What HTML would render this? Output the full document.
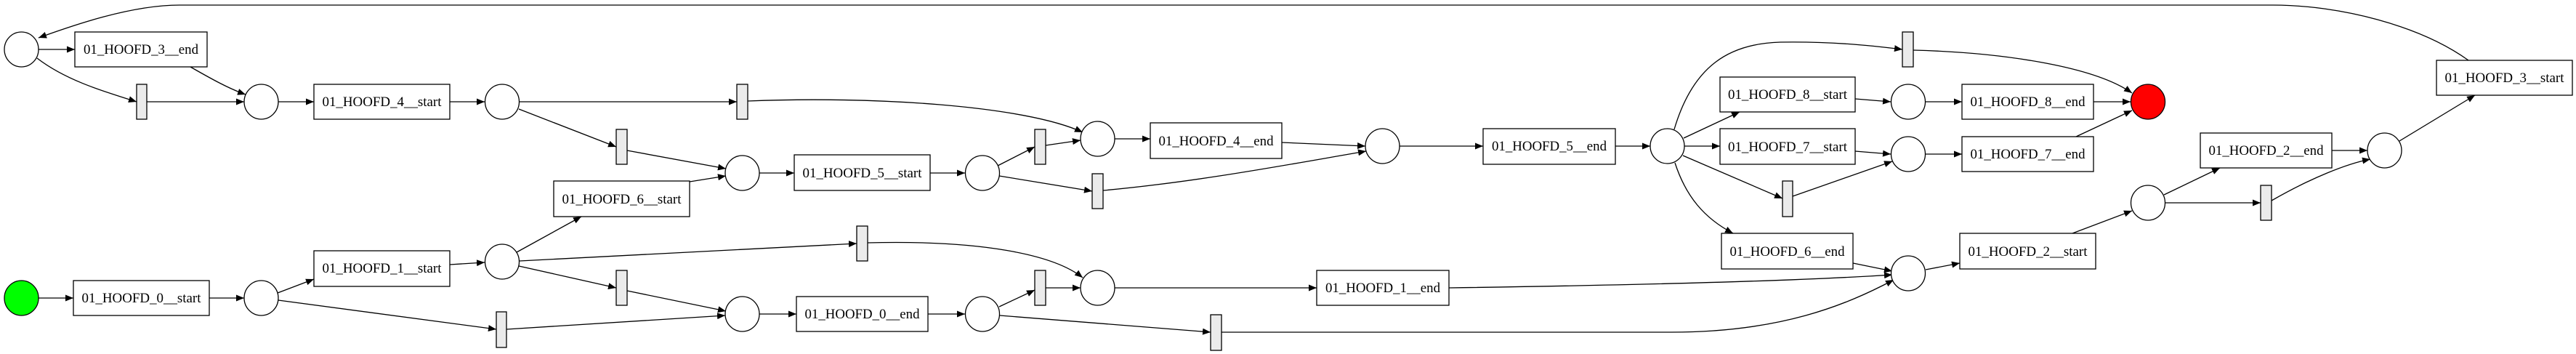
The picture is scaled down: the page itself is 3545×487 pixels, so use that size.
<!DOCTYPE html>
<html><head><meta charset="utf-8"><style>
html,body{margin:0;padding:0;background:#fff;}
svg{display:block;}
text{font-family:"Liberation Serif",serif;font-size:19px;}
</style></head><body>
<svg width="3545" height="487" viewBox="0 0 3545 487" xmlns="http://www.w3.org/2000/svg">
<defs>
<marker id="a" markerUnits="userSpaceOnUse" markerWidth="11" markerHeight="9" refX="11" refY="4.5" orient="auto">
<path d="M0,0 L11,4.5 L0,9 z" fill="#000"/>
</marker>
</defs>
<rect width="3545" height="487" fill="#fff"/>
<g fill="none" stroke="#000" stroke-width="1.3" marker-end="url(#a)">
<path d="M53,68 L103,68"/>
<path d="M51,80 C90,110 140,125 188,140"/>
<path d="M262,92 C290,108 315,122 338,130"/>
<path d="M202,140 L336,140"/>
<path d="M383,140 L432,140"/>
<path d="M619,140 L667,140"/>
<path d="M715,140 L1014,140"/>
<path d="M714,150 L848,202"/>
<path d="M863,207 L999,232"/>
<path d="M949,250 L999,242"/>
<path d="M1045,238 L1093,238"/>
<path d="M1280,238 L1328,238"/>
<path d="M1373,228 L1424,202"/>
<path d="M1375,242 L1503,263"/>
<path d="M1439,200 L1487,193"/>
<path d="M1029,139 C1200,132 1410,145 1490,182"/>
<path d="M1534,191 L1583,191"/>
<path d="M1764,196 L1879,201"/>
<path d="M1518,262 C1650,250 1780,225 1880,208"/>
<path d="M1926,201 L2041,201"/>
<path d="M2223,201 L2271,201"/>
<path d="M2304,178 C2330,90 2380,60 2450,58 C2520,57 2570,62 2618,68"/>
<path d="M2317,190 L2394,154"/>
<path d="M2318,201 L2367,201"/>
<path d="M2316,214 L2453,273"/>
<path d="M2305,224 C2320,270 2345,300 2385,321"/>
<path d="M2553,136 L2602,140"/>
<path d="M2553,208 L2602,212"/>
<path d="M2467,270 L2604,222"/>
<path d="M2650,140 L2700,140"/>
<path d="M2650,212 L2700,212"/>
<path d="M2633,69 C2750,72 2880,90 2934,128"/>
<path d="M2881,140 L2932,140"/>
<path d="M2857,188 L2934,152"/>
<path d="M2550,362 L2604,373"/>
<path d="M1994,396 C2200,393 2450,388 2604,378"/>
<path d="M1681,457 L2300,457 C2450,457 2540,420 2606,385"/>
<path d="M2650,371 L2697,362"/>
<path d="M2852,321 L2934,290"/>
<path d="M2978,268 L3055,231"/>
<path d="M2980,279 L3111,279"/>
<path d="M3209,207 L3258,207"/>
<path d="M3126,276 C3180,245 3230,225 3262,219"/>
<path d="M3302,194 L3406,131"/>
<path d="M3397,83 C3330,35 3220,7 3128,7 L247,7 C180,7 100,35 53,52"/>
<path d="M53,410 L101,410"/>
<path d="M288,410 L336,410"/>
<path d="M382,403 L432,384"/>
<path d="M383,413 L683,453"/>
<path d="M619,364 L667,361"/>
<path d="M711,347 L800,298"/>
<path d="M715,359 L1179,335"/>
<path d="M714,366 L848,396"/>
<path d="M863,400 L999,428"/>
<path d="M697,453 L998,434"/>
<path d="M1045,432 L1096,432"/>
<path d="M1277,432 L1328,432"/>
<path d="M1375,422 L1424,399"/>
<path d="M1376,434 L1666,457"/>
<path d="M1439,396 L1487,396"/>
<path d="M1194,334 C1350,330 1450,350 1490,382"/>
<path d="M1534,396 L1812,396"/>
</g>
<g stroke="#000" stroke-width="1.3" fill="#fff">
<ellipse cx="29.5" cy="68" rx="23.5" ry="24"/>
<ellipse cx="359.5" cy="140" rx="23.5" ry="24"/>
<ellipse cx="691" cy="140" rx="23.5" ry="24"/>
<ellipse cx="29.5" cy="410" rx="23.5" ry="24" fill="#00ff00"/>
<ellipse cx="359.5" cy="410" rx="23.5" ry="24"/>
<ellipse cx="691" cy="360" rx="23.5" ry="24"/>
<ellipse cx="1021.5" cy="238" rx="23.5" ry="24"/>
<ellipse cx="1352" cy="238" rx="23.5" ry="24"/>
<ellipse cx="1510.5" cy="191" rx="23.5" ry="24"/>
<ellipse cx="1510.5" cy="396" rx="23.5" ry="24"/>
<ellipse cx="1021.5" cy="432" rx="23.5" ry="24"/>
<ellipse cx="1352" cy="432" rx="23.5" ry="24"/>
<ellipse cx="1902.5" cy="201" rx="23.5" ry="24"/>
<ellipse cx="2294.5" cy="201" rx="23.5" ry="24"/>
<ellipse cx="2626" cy="140" rx="23.5" ry="24"/>
<ellipse cx="2626" cy="212" rx="23.5" ry="24"/>
<ellipse cx="2626" cy="376" rx="23.5" ry="24"/>
<ellipse cx="2956" cy="140" rx="23.5" ry="24" fill="#ff0000"/>
<ellipse cx="2956" cy="279" rx="23.5" ry="24"/>
<ellipse cx="3281.5" cy="207" rx="23.5" ry="24"/>
</g>
<g stroke="#000" stroke-width="1.3" fill="#ebebeb">
<rect x="188" y="116" width="14" height="48"/>
<rect x="848" y="178" width="15" height="48"/>
<rect x="848" y="372" width="15" height="48"/>
<rect x="683" y="429" width="14" height="49"/>
<rect x="1014" y="116" width="15" height="48"/>
<rect x="1424" y="178" width="15" height="48"/>
<rect x="1503" y="239" width="15" height="48"/>
<rect x="1179" y="311" width="15" height="48"/>
<rect x="1424" y="372" width="15" height="48"/>
<rect x="1666" y="433" width="15" height="49"/>
<rect x="2618" y="44" width="15" height="48"/>
<rect x="2453" y="249" width="14" height="49"/>
<rect x="3111" y="255" width="15" height="48"/>
</g>
<g stroke="#000" stroke-width="1.3" fill="#fff">
<rect x="103" y="44" width="182" height="48"/>
<rect x="432" y="116" width="187" height="48"/>
<rect x="762" y="249" width="187" height="49"/>
<rect x="101" y="386" width="187" height="48"/>
<rect x="432" y="345" width="187" height="49"/>
<rect x="1093" y="213" width="187" height="49"/>
<rect x="1583" y="169" width="181" height="49"/>
<rect x="1096" y="408" width="181" height="48"/>
<rect x="2041" y="177" width="182" height="49"/>
<rect x="2367" y="106" width="186" height="48"/>
<rect x="2367" y="177" width="186" height="49"/>
<rect x="2369" y="321" width="181" height="49"/>
<rect x="1812" y="372" width="182" height="48"/>
<rect x="2700" y="116" width="181" height="48"/>
<rect x="2700" y="188" width="181" height="48"/>
<rect x="3028" y="183" width="181" height="48"/>
<rect x="3353" y="83" width="187" height="48"/>
<rect x="2697" y="321" width="187" height="49"/>
</g>
<g fill="#000" text-anchor="middle" lengthAdjust="spacingAndGlyphs">
<text x="194" y="74" textLength="158" lengthAdjust="spacingAndGlyphs">01_HOOFD_3__end</text>
<text x="525.5" y="146" textLength="164" lengthAdjust="spacingAndGlyphs">01_HOOFD_4__start</text>
<text x="855.5" y="280" textLength="164" lengthAdjust="spacingAndGlyphs">01_HOOFD_6__start</text>
<text x="194.5" y="416" textLength="164" lengthAdjust="spacingAndGlyphs">01_HOOFD_0__start</text>
<text x="525.5" y="375" textLength="164" lengthAdjust="spacingAndGlyphs">01_HOOFD_1__start</text>
<text x="1186.5" y="244" textLength="164" lengthAdjust="spacingAndGlyphs">01_HOOFD_5__start</text>
<text x="1673.5" y="200" textLength="158" lengthAdjust="spacingAndGlyphs">01_HOOFD_4__end</text>
<text x="1186.5" y="438" textLength="158" lengthAdjust="spacingAndGlyphs">01_HOOFD_0__end</text>
<text x="2132" y="207" textLength="158" lengthAdjust="spacingAndGlyphs">01_HOOFD_5__end</text>
<text x="2460" y="136" textLength="164" lengthAdjust="spacingAndGlyphs">01_HOOFD_8__start</text>
<text x="2460" y="208" textLength="164" lengthAdjust="spacingAndGlyphs">01_HOOFD_7__start</text>
<text x="2459.5" y="352" textLength="158" lengthAdjust="spacingAndGlyphs">01_HOOFD_6__end</text>
<text x="1903" y="402" textLength="158" lengthAdjust="spacingAndGlyphs">01_HOOFD_1__end</text>
<text x="2790.5" y="146" textLength="158" lengthAdjust="spacingAndGlyphs">01_HOOFD_8__end</text>
<text x="2790.5" y="218" textLength="158" lengthAdjust="spacingAndGlyphs">01_HOOFD_7__end</text>
<text x="3118.5" y="213" textLength="158" lengthAdjust="spacingAndGlyphs">01_HOOFD_2__end</text>
<text x="3446.5" y="113" textLength="164" lengthAdjust="spacingAndGlyphs">01_HOOFD_3__start</text>
<text x="2790.5" y="352" textLength="164" lengthAdjust="spacingAndGlyphs">01_HOOFD_2__start</text>
</g>
</svg>
</body></html>
